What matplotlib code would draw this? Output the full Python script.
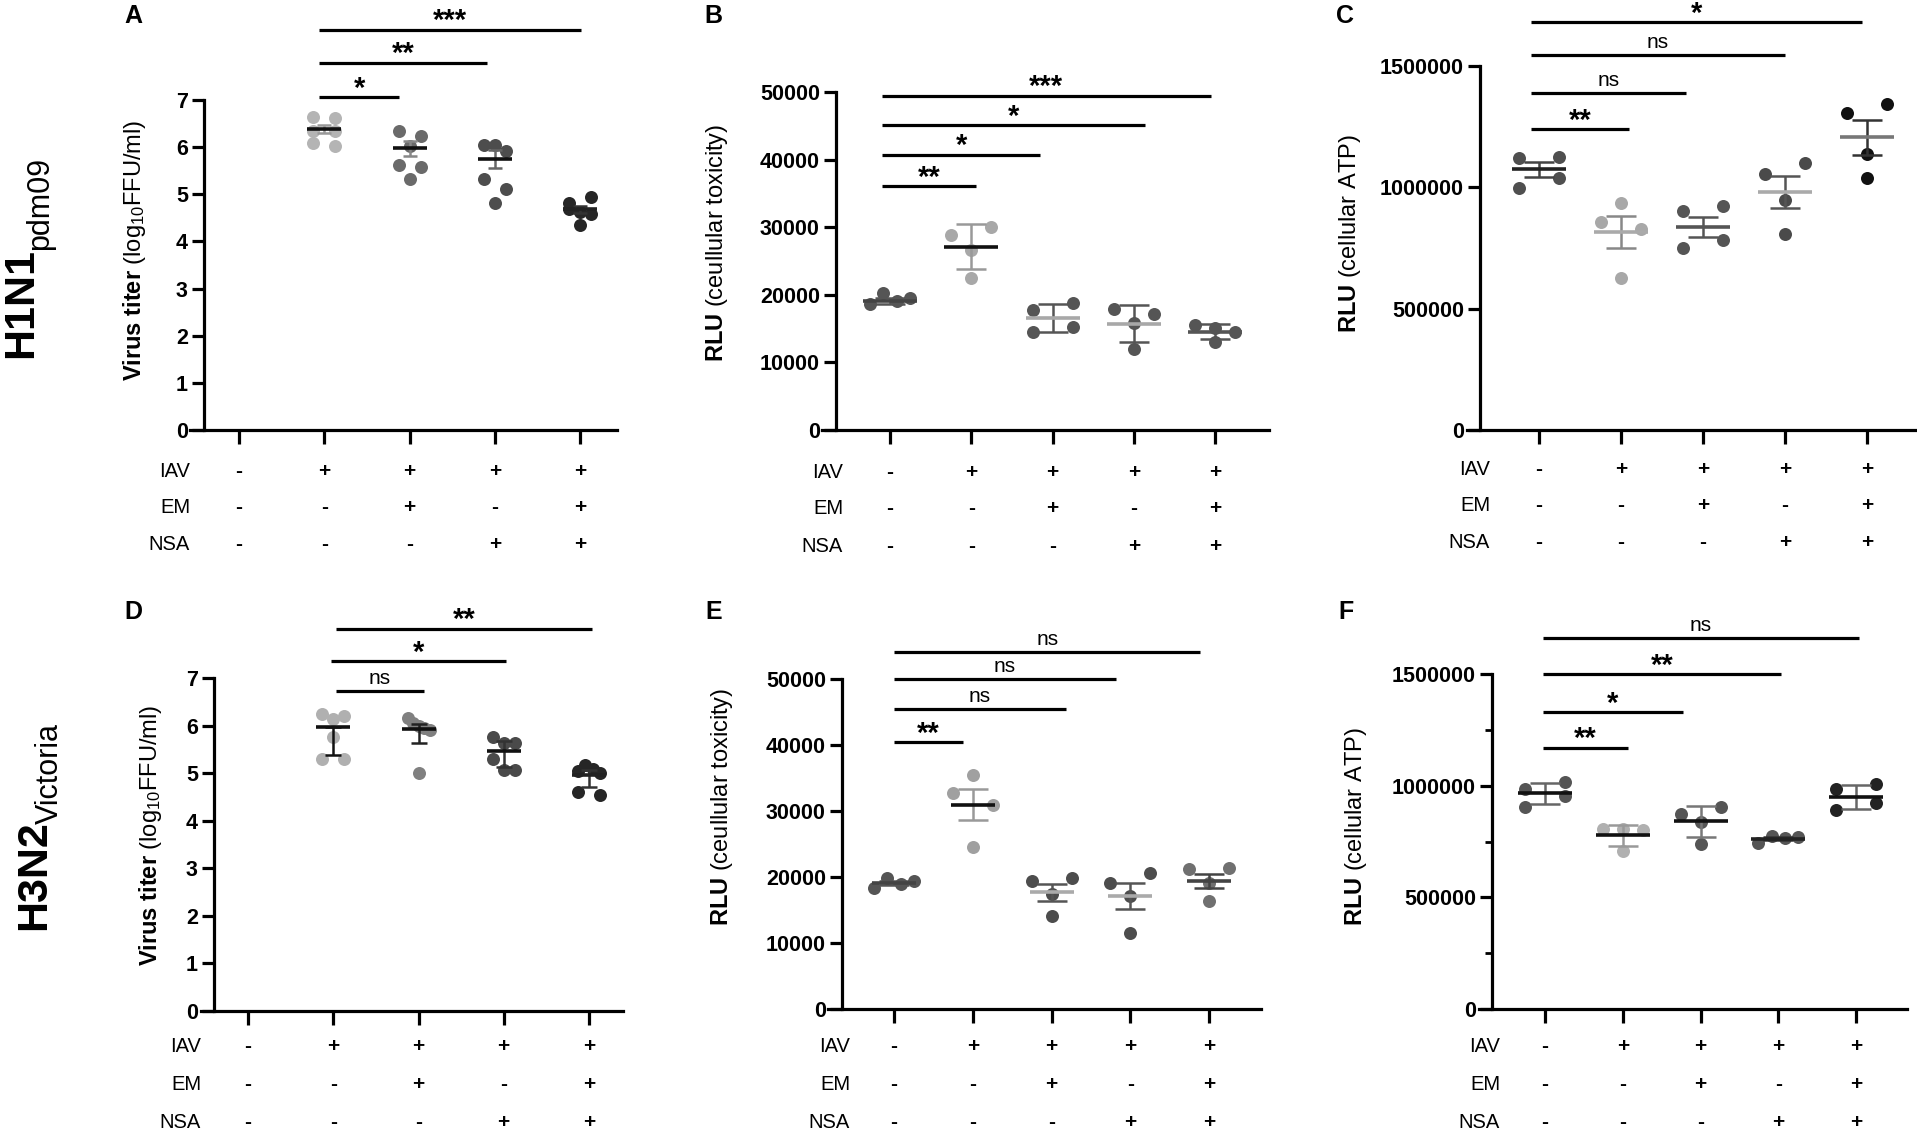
import numpy as np
import matplotlib.pyplot as plt
from matplotlib.ticker import MultipleLocator

plt.rcParams['font.family'] = ['Liberation Sans', 'DejaVu Sans']
plt.rcParams['mathtext.fontset'] = 'custom'
plt.rcParams['mathtext.rm'] = 'Liberation Sans'
plt.rcParams['mathtext.bf'] = 'Liberation Sans:bold'
plt.rcParams['mathtext.it'] = 'Liberation Sans:italic'

# treatment table under every panel
row_names = ['IAV', 'EM', 'NSA']
iav = ['-', '+', '+', '+', '+']
em = ['-', '-', '+', '-', '+']
nsa = ['-', '-', '-', '+', '+']

# A: H1N1 virus titer
a_points = [[],
            [6.64, 6.62, 6.34, 6.34, 6.08, 6.02],
            [6.34, 6.24, 6.02, 5.62, 5.58, 5.32],
            [6.05, 6.05, 5.92, 5.32, 5.11, 4.82],
            [4.82, 4.94, 4.68, 4.62, 4.58, 4.35]]
a_mean = [None, 6.39, 5.98, 5.75, 4.68]
a_err = [0, 0.08, 0.16, 0.19, 0.08]
a_sig = [(0.94, 1.88, 7.06, '*'), (0.94, 2.91, 7.79, '**'), (0.94, 4.01, 8.49, '***')]

# B: H1N1 cellular toxicity
b_points = [[18600, 20200, 19100, 19500],
            [28900, 30050, 26600, 22500],
            [17780, 18750, 14440, 15250],
            [17900, 17130, 15900, 11960],
            [15520, 15090, 14440, 13090]]
b_mean = [19100, 27100, 16600, 15730, 14550]
b_err = [400, 3300, 2070, 2700, 1080]
b_sig = [(-0.1, 1.06, 36050, '**'), (-0.1, 1.85, 40750, '*'), (-0.1, 3.14, 45120, '*'),
         (-0.1, 3.95, 49450, '***')]

# C: H1N1 cellular ATP
c_points = [[1121800, 1126300, 999000, 1039500],
            [934800, 857000, 827000, 625000],
            [902000, 923000, 751000, 782000],
            [1057000, 1102000, 946700, 807500],
            [1305700, 1341600, 1136700, 1036500]]
c_mean = [1074000, 815000, 837500, 979600, 1207000]
c_err = [30000, 65000, 41000, 66000, 72000]
c_sig = [(-0.1, 1.1, 1240700, '**'), (-0.1, 1.79, 1387000, 'ns'), (-0.1, 3.0, 1543700, 'ns'),
         (-0.1, 3.94, 1681800, '*')]

# D: H3N2 virus titer
d_points = [[],
            [6.25, 6.14, 6.2, 5.77, 5.29, 5.29],
            [6.15, 6.05, 6.0, 5.95, 5.9, 5.0],
            [5.77, 5.64, 5.64, 5.29, 5.06, 5.06],
            [5.04, 5.18, 5.08, 5.0, 4.6, 4.55]]
d_mean = [None, 5.98, 5.93, 5.47, 4.97]
d_err = [0, (0.59, 0.0), (0.29, 0.1), (0.35, 0.2), (0.27, 0.1)]
d_sig = [(1.03, 2.06, 6.73, 'ns'), (0.97, 3.03, 7.35, '*'), (1.03, 4.04, 8.04, '**')]

# E: H3N2 cellular toxicity
e_points = [[18340, 19810, 18990, 19420],
            [35470, 32750, 30960, 24590],
            [19420, 19860, 17410, 14150],
            [19150, 20670, 17080, 11530],
            [21220, 21330, 19150, 16320]]
e_mean = [19100, 30960, 17680, 17140, 19370]
e_err = [300, 2320, 1280, 1990, 1090]
e_sig = [(0, 0.88, 40480, '**'), (0, 2.18, 45470, 'ns'), (0, 2.82, 50000, 'ns'),
         (0, 3.89, 54080, 'ns')]

# F: H3N2 cellular ATP
f_points = [[985000, 1017000, 904000, 953000],
            [807800, 804600, 799800, 708000],
            [872200, 904400, 836800, 740200],
            [743400, 775600, 767600, 770800],
            [985000, 1009000, 891600, 920600]]
f_mean = [965600, 778800, 840000, 762800, 949500]
f_err = [48000, 47000, 70000, 8000, 52000]
f_sig = [(-0.03, 1.07, 1170000, '**'), (-0.03, 1.78, 1330000, '*'), (-0.03, 3.04, 1500000, '**'),
         (-0.03, 4.04, 1661000, 'ns')]

# grey levels
a_colors = [None, '#b4b4b4', '#6a6a6a', '#4d4d4d', '#262626']
b_colors = ['#555555', '#a8a8a8', '#555555', '#555555', '#555555']
c_colors = ['#4f4f4f', '#a8a8a8', '#555555', '#4a4a4a', '#111111']
d_colors = [None, '#b0b0b0', '#808080', '#4a4a4a', '#262626']
e_colors = ['#555555', '#a0a0a0', '#4d4d4d', '#4d4d4d', '#707070']
f_colors = ['#555555', '#b0b0b0', '#555555', '#555555', '#222222']

a_mcol = [None, '#111111', '#111111', '#111111', '#222222']
b_mcol = ['#444444', '#111111', '#a8a8a8', '#a8a8a8', '#555555']
c_mcol = ['#222222', '#aaaaaa', '#555555', '#aaaaaa', '#777777']
d_mcol = [None, '#111111', '#111111', '#111111', '#222222']
e_mcol = ['#444444', '#111111', '#aaaaaa', '#aaaaaa', '#444444']
f_mcol = ['#111111', '#111111', '#111111', '#222222', '#111111']

a_ecol = [None, '#999999', '#888888', '#666666', '#333333']
b_ecol = ['#555555', '#999999', '#555555', '#555555', '#555555']
c_ecol = ['#444444', '#888888', '#555555', '#555555', '#333333']
d_ecol = [None, '#111111', '#222222', '#333333', '#333333']
e_ecol = ['#555555', '#999999', '#555555', '#555555', '#444444']
f_ecol = ['#666666', '#999999', '#777777', '#333333', '#666666']

ylab_titer = r'$\mathbf{Virus\ titer}$ (log$_{10}$FFU/ml)'
ylab_tox = r'$\mathbf{RLU}$ (ceullular toxicity)'
ylab_atp = r'$\mathbf{RLU}$ (cellular ATP)'

W, H = 1917, 1132
fig = plt.figure(figsize=(W / 100, H / 100), dpi=100)

DOT = 13  # marker diameter, px


def swarm(vals, px_per_unit, half):
    # GraphPad-like rows: points closer than ~one dot share a row
    order = np.argsort(vals)[::-1]
    rows, cur, top = [], [], None
    for i in order:
        if top is None or (top - vals[i]) * px_per_unit < 12:
            cur.append(i)
            top = vals[i] if top is None else top
        else:
            rows.append(cur)
            cur, top = [i], vals[i]
    if cur:
        rows.append(cur)
    off = np.zeros(len(vals))
    for r in rows:
        r = sorted(r)
        if len(r) > 1:
            off[r] = np.linspace(-half, half, len(r))
    return off


def panel(box, cat0, sp, yaxis_x, ymax, ystep, points, means, errs, colors, mcols, ecols,
          sigs, ylabel, ylab_xy, letter, letter_xy, rows_y, rows_right, minor=None,
          spread=20, mhalf=27, cap=15):
    xl, xr, y0, ytop = box
    ax = fig.add_axes([xl / W, 1 - y0 / H, (xr - xl) / W, (y0 - ytop) / H])
    ax.set_xlim((xl - cat0) / sp, (xr - cat0) / sp)
    ax.set_ylim(0, ymax)
    for s in ['top', 'right']:
        ax.spines[s].set_visible(False)
    ax.spines['left'].set_position(('data', (yaxis_x - cat0) / sp))
    for s in ['left', 'bottom']:
        ax.spines[s].set_linewidth(2.3)
    ax.set_xticks(range(5))
    ax.set_xticklabels([])
    ax.yaxis.set_major_locator(MultipleLocator(ystep))
    if minor:
        ax.yaxis.set_minor_locator(MultipleLocator(minor))
        ax.tick_params(axis='y', which='minor', direction='out', length=5, width=2)
    ax.tick_params(axis='x', direction='out', length=10, width=2.3)
    ax.tick_params(axis='y', which='major', direction='out', length=8.6, width=2.3,
                   labelsize=15.5, pad=3)
    for t in ax.get_yticklabels():
        t.set_fontweight('bold')
    ax.ticklabel_format(axis='y', style='plain', useOffset=False)
    ppu = (y0 - ytop) / ymax
    for i in range(5):
        vals = np.array(points[i], dtype=float)
        if len(vals) == 0:
            continue
        off = swarm(vals, ppu, spread) / sp
        ax.scatter(i + off, vals, s=(DOT * 0.72) ** 2, color=colors[i], linewidths=0,
                   zorder=3, clip_on=False)
        err = errs[i]
        if isinstance(err, tuple):
            yerr = [[err[0]], [err[1]]]
        else:
            yerr = err
        ax.errorbar([i], [means[i]], yerr=yerr, fmt='none', ecolor=ecols[i],
                    elinewidth=1.8, capsize=cap * 0.72, capthick=1.8, zorder=4)
        ax.hlines(means[i], i - mhalf / sp, i + mhalf / sp, color=mcols[i], lw=2.6, zorder=5)
    for (x1, x2, h, lab) in sigs:
        ax.plot([x1, x2], [h, h], color='black', lw=2.3, clip_on=False,
                solid_capstyle='butt')
        star = lab != 'ns'
        ax.annotate(lab, xy=((x1 + x2) / 2, h), xytext=(0, 6 if star else 9),
                    textcoords='offset points', ha='center', va='center',
                    fontsize=21 if star else 15, fontweight='bold' if star else 'normal',
                    annotation_clip=False)
    # treatment rows
    for name, signs, yy in zip(row_names, [iav, em, nsa], rows_y):
        fig.text(rows_right / W, 1 - yy / H, name, ha='right', va='center', fontsize=14.5)
        for i, sg in enumerate(signs):
            fig.text((cat0 + i * sp) / W, 1 - yy / H, sg, ha='center', va='center',
                     fontsize=15, fontweight='bold')
    fig.text(ylab_xy[0] / W, 1 - ylab_xy[1] / H, ylabel, rotation=90, ha='center',
             va='center', fontsize=17)
    fig.text(letter_xy[0] / W, 1 - letter_xy[1] / H, letter, ha='center', va='center',
             fontsize=18, fontweight='bold')
    return ax


panel((190, 617, 430, 100), 239, 85.25, 204, 7, 1, a_points, a_mean, a_err, a_colors,
      a_mcol, a_ecol, a_sig, ylab_titer, (134, 250), 'A', (133, 16),
      (471, 507, 544), 190, spread=11, mhalf=17, cap=7)
panel((822, 1269, 430, 92), 890, 81.25, 836, 50000, 10000, b_points, b_mean, b_err, b_colors,
      b_mcol, b_ecol, b_sig, ylab_tox, (717, 243), 'B', (713, 16),
      (472, 509, 547), 843)
panel((1467, 1917, 430, 66), 1539, 82, 1480, 1500000, 500000, c_points, c_mean, c_err,
      c_colors, c_mcol, c_ecol, c_sig, ylab_atp, (1350, 234), 'C', (1345, 16),
      (469, 505, 542), 1490)
panel((201, 623, 1011, 678), 248, 85.25, 214, 7, 1, d_points, d_mean, d_err, d_colors,
      d_mcol, d_ecol, d_sig, ylab_titer, (150, 835), 'D', (133, 612),
      (1047, 1084, 1123), 201, spread=11, mhalf=17, cap=8)
panel((828, 1261, 1009, 679), 894, 78.75, 842, 50000, 10000, e_points, e_mean, e_err,
      e_colors, e_mcol, e_ecol, e_sig, ylab_tox, (722, 807), 'E', (714, 612),
      (1047, 1084, 1123), 850, mhalf=22)
panel((1479, 1907, 1009, 674), 1545, 77.75, 1492, 1500000, 500000, f_points, f_mean, f_err,
      f_colors, f_mcol, f_ecol, f_sig, ylab_atp, (1356, 827), 'F', (1346, 612),
      (1047, 1084, 1123), 1500, minor=250000)

# strain labels at the left edge
fig.text(21 / W, 1 - 358 / H, 'H1N1', rotation=90, ha='center', va='bottom',
         fontsize=31, fontweight='bold')
fig.text(40 / W, 1 - 250 / H, 'pdm09', rotation=90, ha='center', va='bottom', fontsize=22)
fig.text(34 / W, 1 - 930 / H, 'H3N2', rotation=90, ha='center', va='bottom',
         fontsize=31, fontweight='bold')
fig.text(50 / W, 1 - 824 / H, 'Victoria', rotation=90, ha='center', va='bottom', fontsize=22)

fig.savefig('out.png', dpi=100)
